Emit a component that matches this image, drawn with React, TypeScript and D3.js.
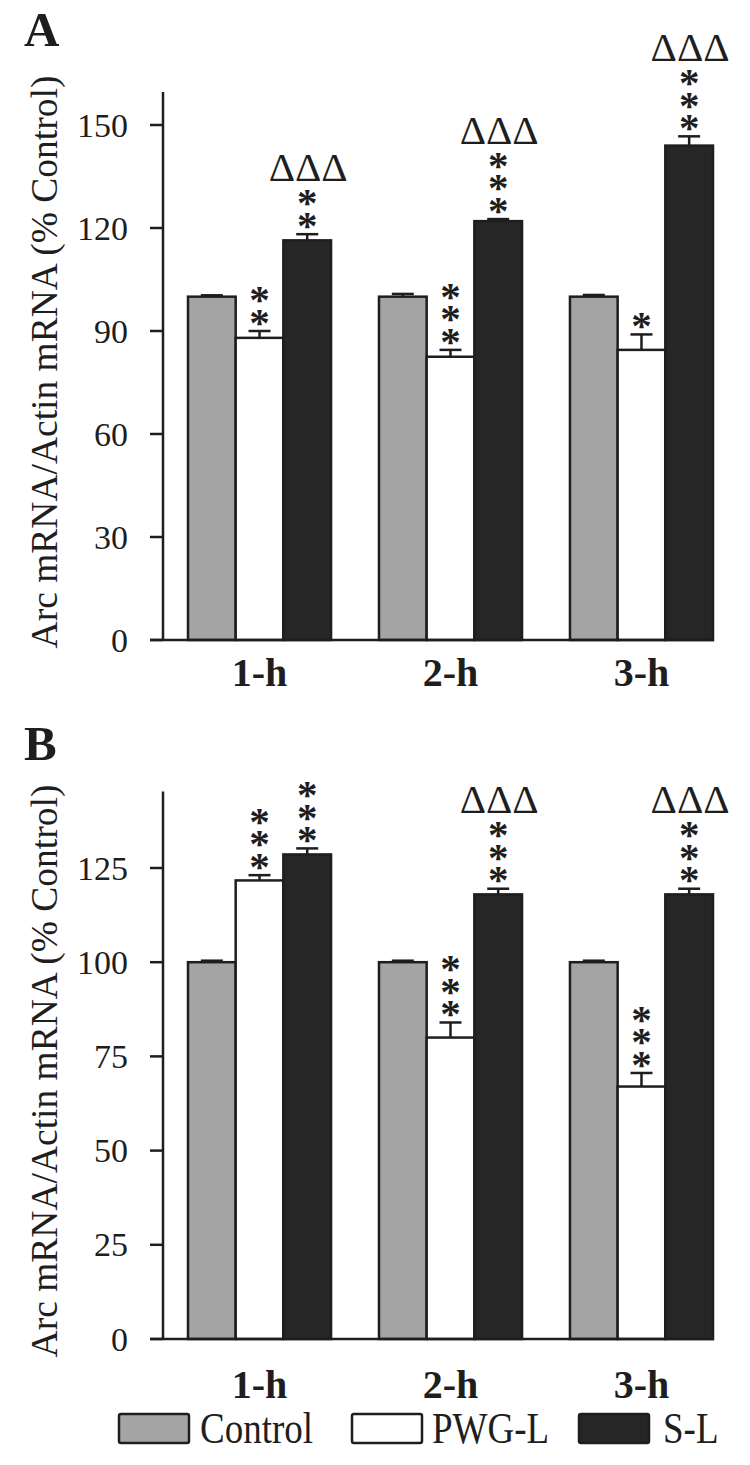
import React from "react";
import * as d3 from "d3";

const groups = ["1-h", "2-h", "3-h"];
const seriesNames = ["Control", "PWG-L", "S-L"];
const seriesFill = ["#a4a4a4", "#ffffff", "#262626"];

// Panel A
const aControl = [100, 100, 100];
const aControlErr = [0.4, 0.8, 0.5];
const aPwg = [88, 82.5, 84.5];
const aPwgErr = [2, 2, 4.5];
const aSl = [116.4, 122, 144];
const aSlErr = [1.8, 0.6, 2.7];
const aTicks = [0, 30, 60, 90, 120, 150];
const aPwgStars = [2, 3, 1];
const aSlStars = [2, 3, 3];
const aSlDelta = [true, true, true];

// Panel B
const bControl = [100, 100, 100];
const bControlErr = [0.4, 0.4, 0.4];
const bPwg = [121.7, 80, 67];
const bPwgErr = [1.4, 4, 3.6];
const bSl = [128.6, 118, 118];
const bSlErr = [1.6, 1.5, 1.5];
const bTicks = [0, 25, 50, 75, 100, 125];
const bPwgStars = [3, 3, 3];
const bSlStars = [3, 3, 3];
const bSlDelta = [false, true, true];

const yTitle = "Arc mRNA/Actin mRNA (% Control)";
const FONT = "'Liberation Serif', 'Times New Roman', serif";
const INK = "#1e1e1e";

type PanelProps = {
  letter: string;
  letterY: number;
  y0: number;
  yTop: number;
  domainMax: number;
  axisMax: number;
  ticks: number[];
  values: number[][];
  errs: number[][];
  stars: number[][];
  deltas: boolean[];
  labelBaseline: number;
  titleCenter: number;
};

function Panel(p: PanelProps) {
  const x = d3.scaleBand<string>().domain(groups).range([188, 713]).paddingInner(0.251).paddingOuter(0);
  const y = d3.scaleLinear().domain([0, p.domainMax]).range([p.y0, p.yTop]);
  const bw = x.bandwidth() / 3;
  const starPitch = 22.5;
  const starFs = 41;
  return (
    <g>
      <text x={24} y={p.letterY} fontFamily={FONT} fontWeight="bold" fontSize={49} fill={INK}>
        {p.letter}
      </text>
      <text
        transform={`translate(57,${p.titleCenter}) rotate(-90)`}
        textAnchor="middle"
        fontFamily={FONT}
        fontSize={37.5}
        fill={INK}
      >
        {yTitle}
      </text>
      {/* bars */}
      {groups.map((g, gi) =>
        p.values.map((vals, si) => {
          const bx = (x(g) as number) + si * bw;
          const v = vals[gi];
          const e = p.errs[si][gi];
          const cx = bx + bw / 2;
          return (
            <g key={g + si}>
              <line x1={cx} x2={cx} y1={y(v)} y2={y(v + e)} stroke={INK} strokeWidth={2.5} />
              <line x1={cx - 11} x2={cx + 11} y1={y(v + e)} y2={y(v + e)} stroke={INK} strokeWidth={2.5} />
              <rect
                x={bx}
                y={y(v)}
                width={bw}
                height={y(0) - y(v)}
                fill={seriesFill[si]}
                stroke={INK}
                strokeWidth={2.5}
              />
            </g>
          );
        })
      )}
      {/* annotations */}
      {groups.map((g, gi) =>
        [1, 2].map((si) => {
          const bx = (x(g) as number) + si * bw;
          const cx = bx + bw / 2;
          const v = p.values[si][gi];
          const e = p.errs[si][gi];
          const n = p.stars[si - 1][gi];
          const base = y(v + e) - 14.5;
          const showDelta = si === 2 && p.deltas[gi];
          const deltaBase = base - (n - 1) * starPitch - 16;
          return (
            <g key={"an" + g + si}>
              {d3.range(n).map((k) => (
                <text
                  key={"s" + k}
                  x={cx}
                  y={base - k * starPitch + starFs * 0.47}
                  textAnchor="middle"
                  fontFamily={FONT}
                  fontWeight="bold"
                  fontSize={starFs}
                  fill={INK}
                >
                  *
                </text>
              ))}
              {showDelta && (
                <text x={cx + 1} y={deltaBase} textAnchor="middle" fontFamily={FONT} fontSize={41} fill={INK}>
                  ΔΔΔ
                </text>
              )}
            </g>
          );
        })
      )}
      {/* y axis */}
      <line x1={163} x2={163} y1={y(p.axisMax)} y2={y(0)} stroke={INK} strokeWidth={2.5} />
      {p.ticks.map((t) => (
        <g key={t}>
          <line x1={150} x2={163} y1={y(t)} y2={y(t)} stroke={INK} strokeWidth={2.5} />
          <text x={128} y={y(t)} dy="0.34em" textAnchor="end" fontFamily={FONT} fontSize={34} fill={INK}>
            {t}
          </text>
        </g>
      ))}
      {/* x axis */}
      <line x1={150} x2={714} y1={y(0)} y2={y(0)} stroke={INK} strokeWidth={2.5} />
      {groups.map((g) => (
        <text
          key={g}
          x={(x(g) as number) + x.bandwidth() / 2}
          y={p.labelBaseline}
          textAnchor="middle"
          fontFamily={FONT}
          fontWeight="bold"
          fontSize={40}
          fill={INK}
        >
          {g}
        </text>
      ))}
    </g>
  );
}

const legendBoxX = [119, 352, 579];
const legendTextX = [200, 432, 663];

export default function App() {
  return (
    <svg
      width={750}
      height={1465}
      style={{ position: "absolute", left: 0, top: 0, background: "#fff" }}
    >
      <rect x={0} y={0} width={750} height={1465} fill="#fff" />
      <Panel
        letter="A"
        letterY={46}
        y0={640}
        yTop={125}
        domainMax={150}
        axisMax={159.6}
        ticks={aTicks}
        values={[aControl, aPwg, aSl]}
        errs={[aControlErr, aPwgErr, aSlErr]}
        stars={[aPwgStars, aSlStars]}
        deltas={aSlDelta}
        labelBaseline={686}
        titleCenter={362}
      />
      <Panel
        letter="B"
        letterY={760}
        y0={1339}
        yTop={868}
        domainMax={125}
        axisMax={145.3}
        ticks={bTicks}
        values={[bControl, bPwg, bSl]}
        errs={[bControlErr, bPwgErr, bSlErr]}
        stars={[bPwgStars, bSlStars]}
        deltas={bSlDelta}
        labelBaseline={1398}
        titleCenter={1071}
      />
      {seriesNames.map((s, i) => (
        <g key={s}>
          <rect
            x={legendBoxX[i]}
            y={1414}
            width={70}
            height={29}
            rx={2}
            fill={seriesFill[i]}
            stroke={INK}
            strokeWidth={2.5}
          />
          <text
            transform={`translate(${legendTextX[i]},1443) scale(1,1.17)`}
            fontFamily={FONT}
            fontSize={37}
            fill={INK}
          >
            {s}
          </text>
        </g>
      ))}
    </svg>
  );
}
